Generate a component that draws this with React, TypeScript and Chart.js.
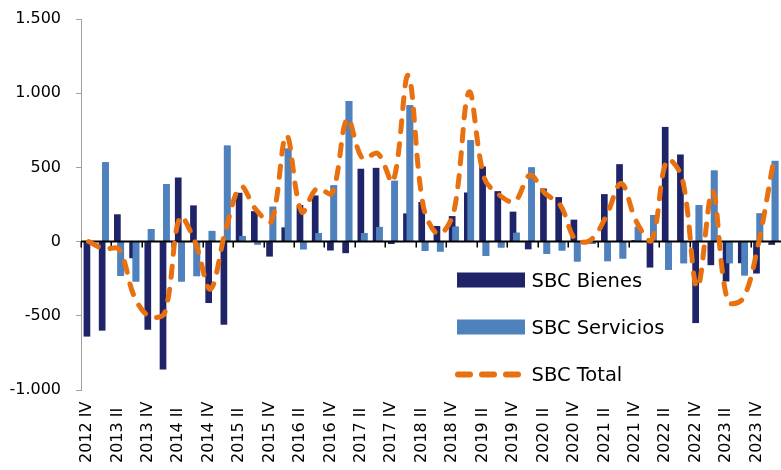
import React, { useEffect, useRef } from 'react';
import { Chart, registerables } from 'chart.js';

Chart.register(...registerables);

const categories = [
  '2012 IV',
  '2013 I', '2013 II', '2013 III', '2013 IV',
  '2014 I', '2014 II', '2014 III', '2014 IV',
  '2015 I', '2015 II', '2015 III', '2015 IV',
  '2016 I', '2016 II', '2016 III', '2016 IV',
  '2017 I', '2017 II', '2017 III', '2017 IV',
  '2018 I', '2018 II', '2018 III', '2018 IV',
  '2019 I', '2019 II', '2019 III', '2019 IV',
  '2020 I', '2020 II', '2020 III', '2020 IV',
  '2021 I', '2021 II', '2021 III', '2021 IV',
  '2022 I', '2022 II', '2022 III', '2022 IV',
  '2023 I', '2023 II', '2023 III', '2023 IV',
  '2024 I',
];

const bienes = [
  -640,
  -600, 184, -112, -594,
  -862, 432, 244, -414,
  -560, 329, 205, -101,
  96, 246, 311, -60,
  -78, 491, 497, -16,
  190, 267, 105, 172,
  331, 506, 340, 202,
  -52, 358, 300, 148,
  5, 320, 522, 10,
  -175, 773, 587, -549,
  -159, -269, -146, -215,
  -22,
];

const servicios = [
  0,
  535, -231, -269, 85,
  388, -269, -233, 72,
  647, 38, -20, 235,
  627, -52, 58, 379,
  948, 58, 99, 410,
  918, -63, -67, 101,
  683, -96, -40, 60,
  500, -83, -60, -134,
  -16, -132, -114, 100,
  179, -190, -146, 246,
  479, -146, -228, 190,
  544,
];

const total = [
  0,
  -48, -52, -370, -505,
  -480, 165, -5, -320,
  75, 370, 215, 135,
  717, 200, 358, 325,
  829, 560, 594, 403,
  1120, 235, 50, 200,
  1008, 430, 313, 269,
  448, 325, 246, 11,
  11, 168, 392, 134,
  8, 549, 430, -310,
  340, -403, -385, -20,
  538,
];

const yTicks = [-1000, -500, 0, 500, 1000, 1500];

const DARK = '#1F2468';
const LIGHT = '#4F81BD';
const ORANGE = '#E8700E';
const GRAY = '#A0A0A0';
const FONT = '"DejaVu Sans", sans-serif';

function fmt(v: number): string {
  const s = String(Math.abs(Math.round(v))).replace(/\B(?=(\d{3})+(?!\d))/g, '.');
  return v < 0 ? '-' + s : s;
}

const overlay = {
  id: 'overlay',
  afterDatasetDraw(chart: any, args: any) {
    if (args.index !== 0) return;
    // light bars drawn on top of dark ones
    chart.getDatasetMeta(1).controller.draw();
    const xs = chart.scales.x;
    const ys = chart.scales.y;
    const ctx = chart.ctx;
    const y0 = ys.getPixelForValue(0);
    ctx.save();
    ctx.strokeStyle = '#000';
    ctx.lineWidth = 2;
    ctx.beginPath();
    ctx.moveTo(chart.chartArea.left, y0);
    ctx.lineTo(chart.chartArea.right, y0);
    ctx.stroke();
    const half = (xs.getPixelForValue(1) - xs.getPixelForValue(0)) / 2;
    ctx.lineWidth = 1.5;
    ctx.beginPath();
    for (let i = 0; i < categories.length; i += 2) {
      const px = Math.round(xs.getPixelForValue(i) - half) + 0.25;
      ctx.moveTo(px, y0);
      ctx.lineTo(px, y0 + 6);
    }
    ctx.stroke();
    ctx.restore();
  },
  afterDraw(chart: any) {
    const ctx = chart.ctx;
    const xs = chart.scales.x;
    ctx.save();
    // category labels, rotated, reading bottom to top
    ctx.fillStyle = '#000';
    ctx.font = '16px ' + FONT;
    ctx.textAlign = 'left';
    ctx.textBaseline = 'alphabetic';
    for (let i = 0; i < categories.length; i += 2) {
      const px = xs.getPixelForValue(i) + 2.5;
      ctx.save();
      ctx.translate(px, 463);
      ctx.rotate(-Math.PI / 2);
      ctx.fillText(categories[i], 0, 0);
      ctx.restore();
    }
    // legend
    const ds = chart.data.datasets;
    const baseY = 287;
    const step = 47;
    ctx.font = '19.5px ' + FONT;
    for (let k = 0; k < ds.length; k++) {
      const b = baseY + k * step;
      const d = ds[k];
      if (d.type === 'line') {
        ctx.save();
        ctx.strokeStyle = d.borderColor;
        ctx.lineWidth = 6;
        ctx.lineCap = 'round';
        ctx.setLineDash([12, 12]);
        ctx.beginPath();
        ctx.moveTo(458, b - 6.5);
        ctx.lineTo(519, b - 6.5);
        ctx.stroke();
        ctx.restore();
      } else {
        ctx.fillStyle = d.backgroundColor;
        ctx.fillRect(457, b - 14.5, 68, 15);
      }
      ctx.fillStyle = '#000';
      ctx.fillText(d.label, 531.5, b);
    }
    ctx.restore();
  },
};

export default function App() {
  const ref = useRef<HTMLCanvasElement | null>(null);
  useEffect(() => {
    if (!ref.current) return;
    const chart = new Chart(ref.current, {
      type: 'bar',
      data: {
        labels: categories,
        datasets: [
          {
            type: 'bar',
            label: 'SBC Bienes',
            data: bienes,
            backgroundColor: DARK,
            borderWidth: 0,
            order: 1,
            categoryPercentage: 0.44,
            barPercentage: 2.0,
          } as any,
          {
            type: 'bar',
            label: 'SBC Servicios',
            data: servicios,
            backgroundColor: LIGHT,
            borderWidth: 0,
            order: 1,
            categoryPercentage: 0.44,
            barPercentage: 2.0,
          } as any,
          {
            type: 'line',
            label: 'SBC Total',
            data: total,
            borderColor: ORANGE,
            backgroundColor: ORANGE,
            borderWidth: 5,
            borderDash: [11, 12],
            borderCapStyle: 'round',
            pointRadius: 0,
            tension: 0.35,
            fill: false,
            order: 0,
          } as any,
        ],
      },
      options: {
        animation: false,
        responsive: false,
        events: [],
        layout: { padding: { top: 19, left: 0, right: 0, bottom: 0 } },
        plugins: { legend: { display: false }, tooltip: { enabled: false } },
        scales: {
          x: {
            offset: true,
            grid: { display: false },
            border: { display: false },
            ticks: { display: false },
            afterFit: (s: any) => {
              s.height = 80;
              s.paddingLeft = 0;
              s.paddingRight = 0;
            },
          },
          y: {
            min: -1000,
            max: 1500,
            afterBuildTicks: (s: any) => {
              s.ticks = yTicks.map((v) => ({ value: v }));
            },
            ticks: {
              padding: 15,
              color: '#000',
              font: { family: FONT, size: 16 },
              callback: (v: any) => fmt(Number(v)),
            },
            grid: {
              drawOnChartArea: false,
              drawTicks: true,
              tickLength: 5,
              color: GRAY,
              lineWidth: 1,
            },
            border: { display: true, color: GRAY, width: 1 },
            afterFit: (s: any) => {
              s.width = 81;
              s.paddingTop = 0;
              s.paddingBottom = 0;
            },
          },
        },
      } as any,
      plugins: [overlay as any],
    });
    return () => chart.destroy();
  }, []);
  return (
    <div style={{ position: 'fixed', left: 0, top: 0, width: 781, height: 470, background: '#fff', overflow: 'hidden' }}>
      <canvas ref={ref} width={781} height={470} style={{ display: 'block' }} />
    </div>
  );
}
